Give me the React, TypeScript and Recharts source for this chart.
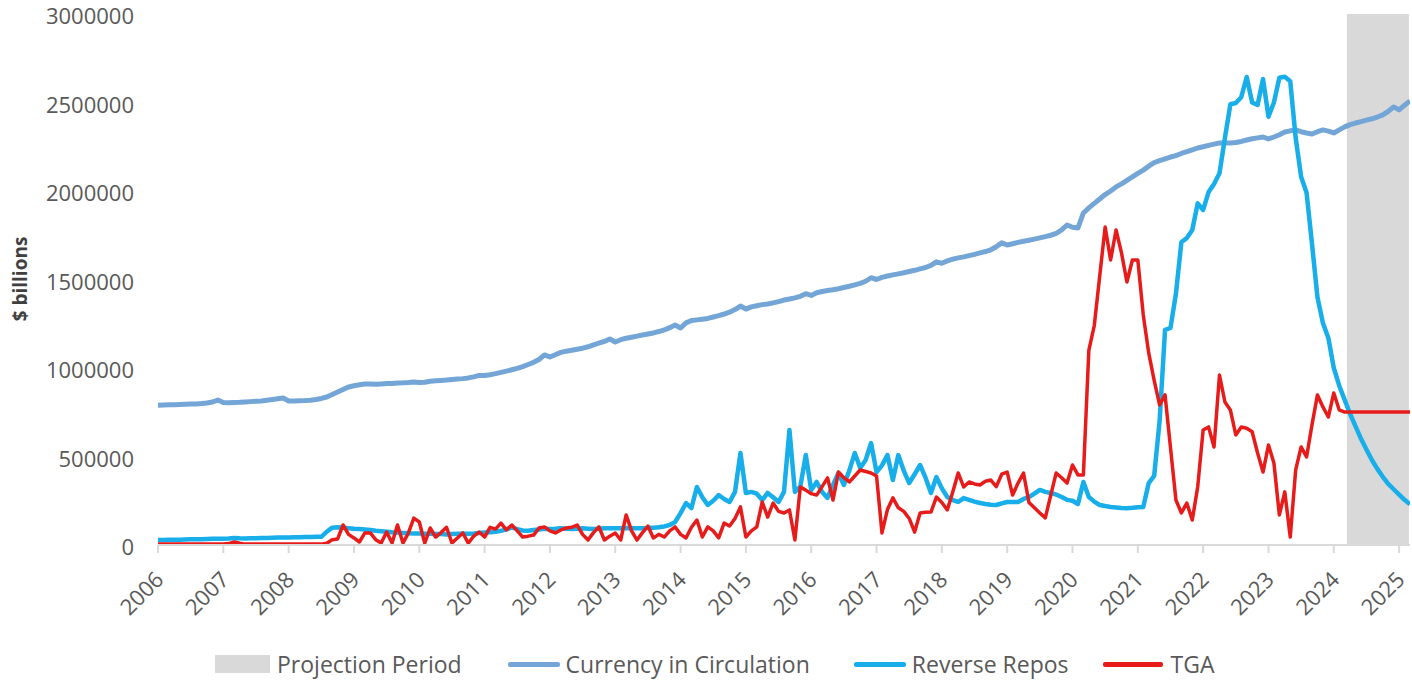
import React from 'react';
import { LineChart, Line, XAxis, YAxis, ReferenceArea } from 'recharts';

// Months since Jan 2006 (one category per month, Jan 2006 .. Mar 2025)
const startYear = 2006;
const yearTicks = [2006, 2007, 2008, 2009, 2010, 2011, 2012, 2013, 2014, 2015, 2016, 2017, 2018, 2019, 2020, 2021, 2022, 2023, 2024, 2025];
const yTicks = [0, 500000, 1000000, 1500000, 2000000, 2500000, 3000000];

// Values in thousands, one per month
const currencyInCirculation = [
  790, 791, 792, 793, 794, 795, 796, 797, 799, 802, 808, 819,
  805, 803, 805, 806, 808, 810, 812, 814, 818, 822, 826, 830,
  814, 814, 815, 816, 818, 822, 828, 836, 850, 864, 878, 893,
  900, 905, 910, 910, 908, 910, 912, 913, 915, 916, 918, 921,
  918, 920, 925, 928, 930, 932, 935, 938, 940, 944, 950, 958,
  958, 962, 968, 975, 982, 990, 998, 1008, 1020, 1032, 1048, 1074,
  1062, 1075, 1088, 1095, 1100, 1106, 1112, 1120, 1130, 1140, 1150, 1164,
  1147, 1160, 1168, 1174, 1180, 1186, 1192, 1198, 1206, 1215, 1228, 1243,
  1226, 1255, 1268, 1272, 1276, 1280, 1288, 1296, 1305, 1315, 1330, 1350,
  1333, 1345, 1352, 1358, 1362, 1368, 1375, 1384, 1390, 1396, 1405, 1420,
  1410, 1425, 1432, 1438, 1442, 1448, 1455, 1462, 1470, 1478, 1490, 1510,
  1500, 1512, 1520, 1526, 1532, 1538, 1545, 1552, 1560, 1568, 1580, 1600,
  1592, 1605, 1615, 1622, 1628, 1635, 1642, 1650, 1658, 1668, 1685, 1708,
  1695, 1702, 1710, 1716, 1722, 1728, 1735, 1742, 1750, 1760, 1780, 1808,
  1795, 1791, 1876, 1905, 1930, 1955, 1980, 2000, 2023, 2040, 2060, 2080,
  2100, 2118, 2140, 2160, 2172, 2182, 2192, 2200, 2212, 2222, 2232, 2243,
  2250, 2258, 2265, 2271, 2271, 2271, 2274, 2280, 2288, 2295, 2300, 2305,
  2294, 2305, 2318, 2333, 2340, 2345, 2335, 2328, 2322, 2335, 2345, 2338,
  2328, 2345, 2362, 2375, 2384, 2392, 2400, 2408, 2418, 2430, 2450, 2475,
  2458, 2485, 2509,
];

const reverseRepos = [
  28, 28, 29, 30, 30, 31, 32, 32, 33, 34, 35, 36,
  36, 37, 40, 38, 37, 38, 38, 39, 40, 41, 42, 42,
  43, 44, 44, 45, 45, 46, 46, 75, 98, 100, 98, 95,
  92, 90, 88, 85, 80, 78, 75, 72, 70, 68, 66, 65,
  65, 64, 64, 62, 62, 60, 62, 64, 64, 63, 65, 68,
  70, 72, 75, 80, 88, 100, 90, 82, 80, 85, 88, 92,
  90, 92, 95, 92, 90, 92, 94, 92, 90, 92, 94, 95,
  94, 95, 96, 95, 94, 95, 96, 98, 100, 105, 113, 130,
  180, 237, 209, 328, 270, 226, 250, 282, 260, 243, 300, 520,
  294, 300, 290, 254, 294, 270, 243, 300, 650, 300, 330, 508,
  311, 356, 300, 266, 340, 407, 339, 420, 520, 435, 480, 576,
  412, 450, 508, 367, 508, 420, 350, 400, 452, 380, 294, 384,
  320, 271, 254, 243, 265, 255, 245, 237, 232, 228, 226, 235,
  243, 243, 243, 260, 271, 290, 311, 300, 294, 285, 271, 255,
  250, 232, 356, 271, 245, 226, 220, 215, 212, 209, 208, 210,
  213, 215, 350, 390, 700, 1215, 1226, 1420, 1710, 1735, 1780, 1930,
  1893, 1994, 2040, 2100, 2300, 2490, 2497, 2530, 2644, 2500, 2486, 2633,
  2420, 2500, 2640, 2645, 2620, 2300, 2080, 1990, 1700, 1400, 1254, 1170,
  1000, 900, 820, 740, 670, 600, 540, 480, 430, 385, 345, 315,
  285, 255, 230,
];

const tga = [
  5, 5, 5, 5, 5, 5, 5, 5, 5, 5, 5, 5,
  5, 8, 17, 10, 5, 5, 5, 5, 5, 5, 5, 5,
  5, 5, 5, 5, 5, 5, 5, 10, 30, 34, 113, 60,
  40, 17, 68, 68, 30, 11, 73, 11, 113, 11, 68, 152,
  130, 11, 96, 45, 70, 100, 11, 40, 68, 11, 50, 73,
  45, 100, 90, 124, 85, 113, 80, 45, 50, 56, 96, 102,
  80, 68, 85, 96, 100, 113, 60, 28, 70, 102, 28, 50,
  68, 28, 170, 80, 28, 70, 107, 40, 60, 45, 80, 102,
  60, 40, 100, 141, 45, 102, 80, 40, 124, 107, 150, 215,
  45, 80, 102, 243, 158, 237, 190, 181, 198, 28, 328, 310,
  290, 282, 330, 379, 254, 412, 380, 356, 390, 424, 415, 407,
  390, 68, 200, 266, 210, 190, 150, 73, 181, 185, 186, 271,
  240, 198, 300, 407, 328, 356, 345, 339, 360, 367, 330, 400,
  412, 282, 350, 407, 240, 210, 181, 153, 280, 407, 380, 350,
  452, 396, 396, 1100, 1240, 1520, 1797, 1610, 1780, 1650, 1486, 1610,
  1610, 1300, 1085, 930, 791, 848, 550, 254, 181, 237, 141, 328,
  650, 667, 554, 960, 808, 763, 622, 667, 660, 640, 520, 412,
  565, 463, 170, 300, 45, 424, 554, 497, 680, 848, 780, 723,
  859, 763, 751, 751, 751, 751, 751, 751, 751, 751, 751, 751,
  751, 751, 751,
];

// Projection period, in months since Jan 2006
const projectionStart = 218.4;
const projectionEnd = 229.8;

const data = currencyInCirculation.map((v, i) => ({
  m: i,
  cic: v * 1000,
  rrp: reverseRepos[i] * 1000,
  tga: tga[i] * 1000,
}));

const COLORS = {
  cic: '#73A6D6',
  rrp: '#17AEEA',
  tga: '#E81B1B',
  proj: '#D9D9D9',
  text: '#595959',
};

const FONT = "'Open Sans', 'DejaVu Sans', sans-serif";

const YearTick = (props: any) => {
  const { x, y, payload } = props;
  const label = String(startYear + Math.round(payload.value / 12));
  const ax = x + 7;
  const ay = y + 26;
  return (
    <text
      x={ax}
      y={ay}
      transform={`rotate(-45 ${ax} ${ay})`}
      textAnchor="end"
      fontSize={22}
      fill={COLORS.text}
      fontFamily={FONT}
    >
      {label}
    </text>
  );
};

const ValueTick = (props: any) => {
  const { x, y, payload } = props;
  return (
    <text
      x={x}
      y={y + 10}
      textAnchor="end"
      fontSize={22}
      fill={COLORS.text}
      fontFamily={FONT}
    >
      {String(payload.value)}
    </text>
  );
};

const YLabel = () => (
  <text
    x={20}
    y={279}
    transform="rotate(-90 20 279)"
    textAnchor="middle"
    dominantBaseline="central"
    fontSize={19}
    fontWeight={700}
    fill="#3F3F3F"
    fontFamily={FONT}
  >
    $ billions
  </text>
);

const LegendBlock = () => {
  const textStyle: React.CSSProperties = { fontSize: 23, color: COLORS.text, fontFamily: FONT, whiteSpace: 'nowrap' };
  const line = (c: string, w: number) => (
    <span style={{ display: 'inline-block', width: w, height: 5, background: c, borderRadius: 2 }} />
  );
  return (
    <div
      style={{
        position: 'absolute',
        top: 648,
        left: 215,
        height: 32,
        display: 'flex',
        alignItems: 'center',
      }}
    >
      <span style={{ display: 'inline-block', width: 55, height: 18, background: COLORS.proj }} />
      <span style={{ ...textStyle, marginLeft: 7 }}>Projection Period</span>
      <span style={{ marginLeft: 46, display: 'flex' }}>{line(COLORS.cic, 52)}</span>
      <span style={{ ...textStyle, marginLeft: 6 }}>Currency in Circulation</span>
      <span style={{ marginLeft: 44, display: 'flex' }}>{line(COLORS.rrp, 52)}</span>
      <span style={{ ...textStyle, marginLeft: 6 }}>Reverse Repos</span>
      <span style={{ marginLeft: 34, display: 'flex' }}>{line(COLORS.tga, 60)}</span>
      <span style={{ ...textStyle, marginLeft: 8 }}>TGA</span>
    </div>
  );
};

export default function App() {
  const xTicks = yearTicks.map((y) => (y - startYear) * 12);
  return (
    <div style={{ position: 'absolute', left: 0, top: 0, width: 1412, height: 680, background: '#fff' }}>
      <LineChart
        width={1412}
        height={680}
        data={data}
        margin={{ top: 14, right: 2, bottom: 0, left: 0 }}
      >
        <ReferenceArea
          x1={projectionStart}
          x2={projectionEnd}
          y1={0}
          y2={3000000}
          fill={COLORS.proj}
          fillOpacity={1}
          stroke="none"
          ifOverflow="visible"
        />
        <XAxis
          dataKey="m"
          type="number"
          domain={[0, 230]}
          ticks={xTicks}
          interval={0}
          height={135}
          tickSize={8}
          axisLine={{ stroke: '#D9D9D9', strokeWidth: 2 }}
          tickLine={{ stroke: '#D9D9D9', strokeWidth: 2 }}
          tick={<YearTick />}
          allowDataOverflow
        />
        <YAxis
          type="number"
          domain={[0, 3000000]}
          ticks={yTicks}
          interval={0}
          width={158}
          axisLine={false}
          tickLine={false}
          tickSize={0}
          tickMargin={24}
          tick={<ValueTick />}
          label={{ content: () => <YLabel /> }}
        />
        <Line
          type="linear"
          dataKey="cic"
          stroke={COLORS.cic}
          strokeWidth={5}
          dot={false}
          strokeLinejoin="round"
          isAnimationActive={false}
        />
        <Line
          type="linear"
          dataKey="rrp"
          stroke={COLORS.rrp}
          strokeWidth={4.5}
          dot={false}
          strokeLinejoin="round"
          isAnimationActive={false}
        />
        <Line
          type="linear"
          dataKey="tga"
          stroke={COLORS.tga}
          strokeWidth={3.5}
          dot={false}
          strokeLinejoin="round"
          isAnimationActive={false}
        />
      </LineChart>
      <LegendBlock />
    </div>
  );
}
